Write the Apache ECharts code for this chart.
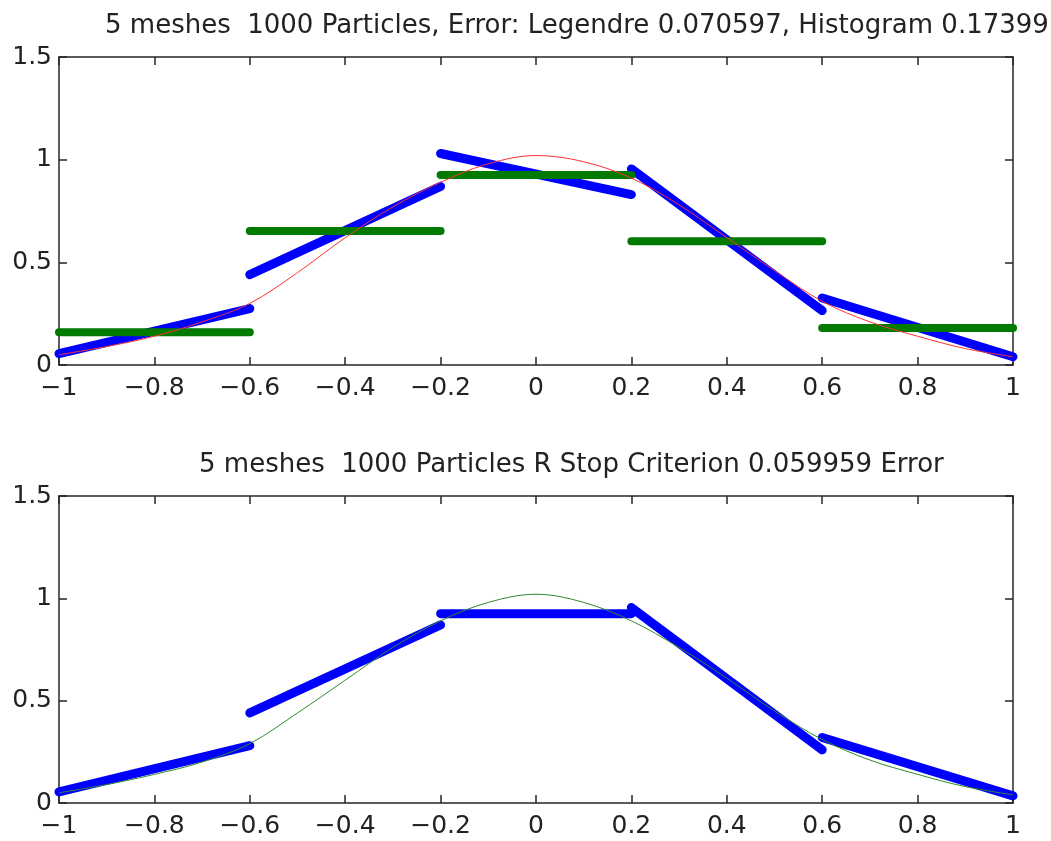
<!DOCTYPE html>
<html><head><meta charset="utf-8">
<script src="https://cdn.jsdelivr.net/npm/echarts@6/dist/echarts.min.js"></script>
<style>html,body{margin:0;padding:0;background:#fff}#c{width:1051px;height:841px}</style>
</head><body><div id="c"></div>
<script>
// ---- data ----
const title1 = '5 meshes  1000 Particles, Error: Legendre 0.070597, Histogram 0.17399';
const title2 = '5 meshes  1000 Particles R Stop Criterion 0.059959 Error';
const xTicks = [-1, -0.8, -0.6, -0.4, -0.2, 0, 0.2, 0.4, 0.6, 0.8, 1];
const yTicks = [0, 0.5, 1, 1.5];
const meshBreaks = [-1, -0.6, -0.2, 0.2, 0.6, 1];
// top panel: Legendre linear pieces (start / end value of each mesh)
const legendreStart = [0.055, 0.44, 1.03, 0.955, 0.326];
const legendreEnd   = [0.275, 0.87, 0.83, 0.265, 0.04];
// top panel: histogram value per mesh
const histValues = [0.16, 0.652, 0.925, 0.603, 0.18];
// exact density (sampled)
const curveX = [-1,-0.9,-0.8,-0.7,-0.6,-0.5,-0.4,-0.3,-0.2,-0.1,0,0.1,0.2,0.3,0.4,0.5,0.6,0.7,0.8,0.9,1];
const curveTop    = [0.05,0.09,0.14,0.21,0.30,0.45,0.62,0.77,0.89,0.98,1.02,0.99,0.91,0.78,0.62,0.46,0.31,0.21,0.14,0.08,0.04];
const curveBottom = [0.05,0.09,0.14,0.20,0.29,0.44,0.60,0.76,0.89,0.98,1.02,0.98,0.89,0.76,0.61,0.45,0.31,0.21,0.14,0.08,0.04];
// bottom panel: R stop criterion pieces
const rStart = [0.054, 0.44, 0.925, 0.955, 0.32];
const rEnd   = [0.28, 0.87, 0.925, 0.26, 0.035];

// ---- chart ----
const FONT = 'DejaVu Sans';
const AX = '#262626';
const TXT = '#222';
const fmt = v => String(v).replace('-', '\u2212');
const grids = [
  {left: 59, top: 57, width: 954, height: 308},
  {left: 59, top: 496, width: 954, height: 307}
];
const xAxes = [], yAxes = [];
[0, 1].forEach(g => {
  xAxes.push({type: 'value', gridIndex: g, min: -1, max: 1, interval: 0.2, position: 'bottom',
    axisLine: {show: true, onZero: false, lineStyle: {color: AX, width: 1.5}},
    axisTick: {show: true, inside: true, length: 8, lineStyle: {color: AX, width: 1.5}},
    axisLabel: {show: true, margin: 11, fontFamily: FONT, fontSize: 25, color: TXT, formatter: fmt, showMinLabel: true, showMaxLabel: true},
    splitLine: {show: false}});
  xAxes.push({type: 'value', gridIndex: g, min: -1, max: 1, interval: 0.2, position: 'top',
    axisLine: {show: true, onZero: false, lineStyle: {color: AX, width: 1.5}},
    axisTick: {show: true, inside: true, length: 8, lineStyle: {color: AX, width: 1.5}},
    axisLabel: {show: false}, splitLine: {show: false}});
  yAxes.push({type: 'value', gridIndex: g, min: 0, max: 1.5, interval: 0.5, position: 'left',
    axisLine: {show: true, onZero: false, lineStyle: {color: AX, width: 1.5}},
    axisTick: {show: true, inside: true, length: 8, lineStyle: {color: AX, width: 1.5}},
    axisLabel: {show: true, margin: 7, fontFamily: FONT, fontSize: 25, color: TXT, formatter: fmt},
    splitLine: {show: false}});
  yAxes.push({type: 'value', gridIndex: g, min: 0, max: 1.5, interval: 0.5, position: 'right',
    axisLine: {show: true, onZero: false, lineStyle: {color: AX, width: 1.5}},
    axisTick: {show: true, inside: true, length: 8, lineStyle: {color: AX, width: 1.5}},
    axisLabel: {show: false}, splitLine: {show: false}});
});

const series = [];
function seg(g, x0, x1, y0, y1, color, width, z) {
  series.push({type: 'line', xAxisIndex: g * 2, yAxisIndex: g * 2, data: [[x0, y0], [x1, y1]],
    symbol: 'none', silent: true, z: z,
    lineStyle: {color: color, width: width, cap: 'round'}});
}
for (let i = 0; i < 5; i++) {
  seg(0, meshBreaks[i], meshBreaks[i + 1], legendreStart[i], legendreEnd[i], '#0000ff', 9, 2);
  seg(0, meshBreaks[i], meshBreaks[i + 1], histValues[i], histValues[i], '#007a00', 8, 3);
  seg(1, meshBreaks[i], meshBreaks[i + 1], rStart[i], rEnd[i], '#0000ff', 9, 2);
}
series.push({type: 'line', xAxisIndex: 0, yAxisIndex: 0, smooth: 0.35, symbol: 'none', silent: true, z: 5,
  data: curveX.map((x, i) => [x, curveTop[i]]), lineStyle: {color: '#ff3030', width: 1}});
series.push({type: 'line', xAxisIndex: 2, yAxisIndex: 2, smooth: 0.35, symbol: 'none', silent: true, z: 5,
  data: curveX.map((x, i) => [x, curveBottom[i]]), lineStyle: {color: '#2f8a2f', width: 1}});

const chart = echarts.init(document.getElementById('c'), null, {renderer: 'canvas'});
chart.setOption({
  animation: false,
  backgroundColor: '#fff',
  title: [
    {text: title1, left: 100, top: 8, textStyle: {fontFamily: FONT, fontSize: 26, fontWeight: 'normal', color: TXT}},
    {text: title2, left: 194, top: 447, textStyle: {fontFamily: FONT, fontSize: 26, fontWeight: 'normal', color: TXT}}
  ],
  grid: grids,
  xAxis: xAxes,
  yAxis: yAxes,
  series: series
});
</script></body></html>
